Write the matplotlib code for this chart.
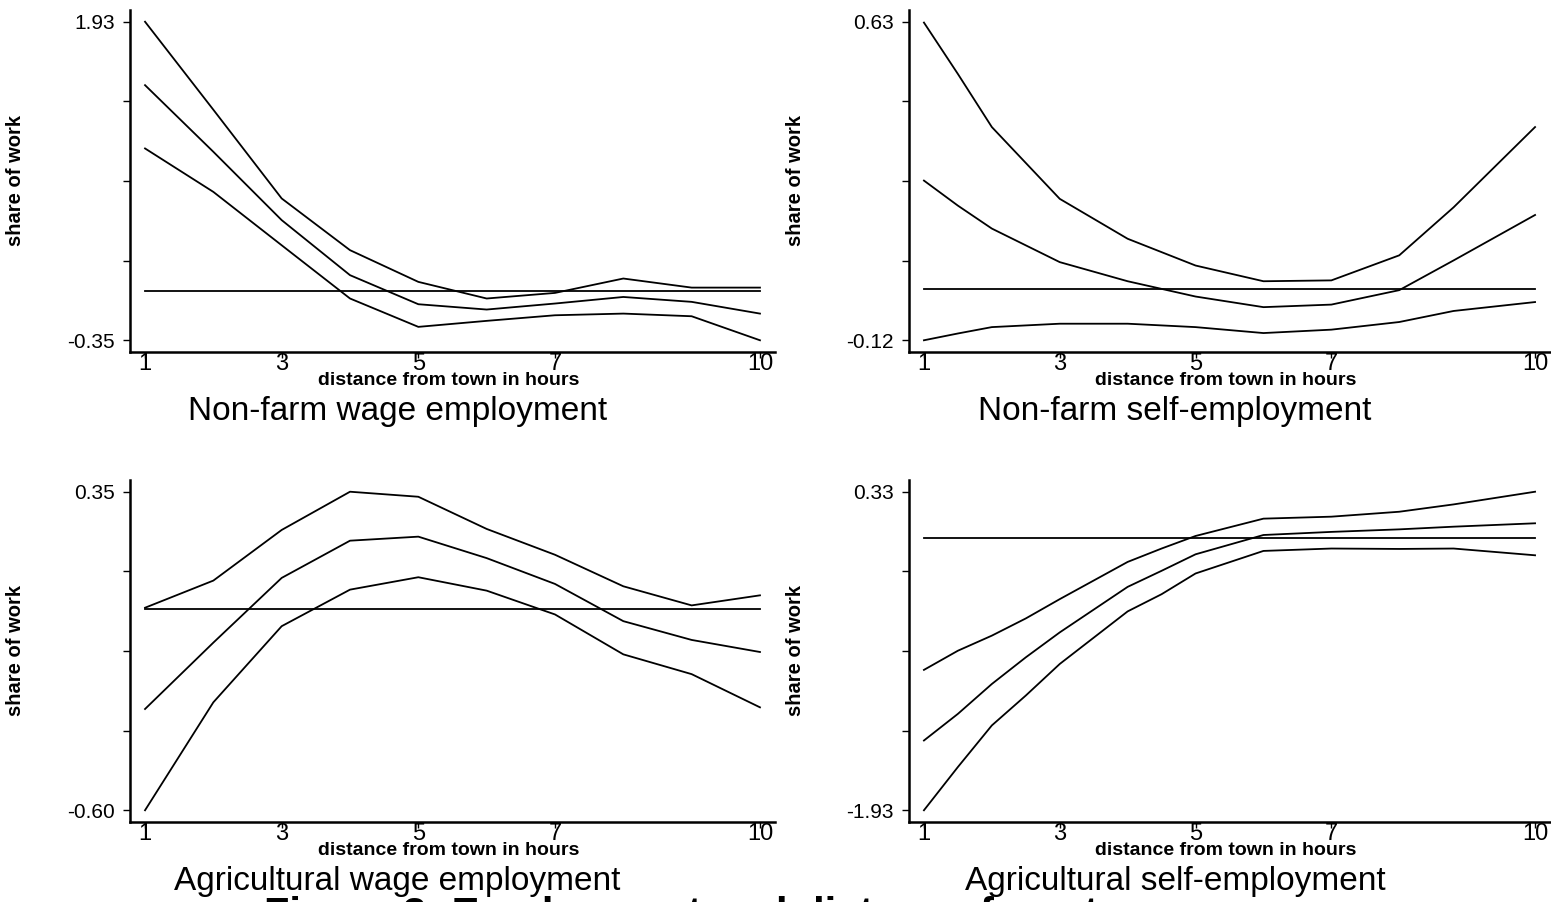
import numpy as np
import matplotlib
matplotlib.use("Agg")
import matplotlib.pyplot as plt

# distance (hours) grid per panel
hours_a = [1, 2, 3, 4, 5, 6, 7, 8, 9, 10]
hours_b = [1, 1.5, 2, 3, 4, 5, 6, 7, 8, 8.8, 10]
hours_d = [1, 1.5, 2, 2.5, 3, 4, 4.5, 5, 6, 7, 8, 8.8, 10]

x_ticks = [1, 3, 5, 7, 10]

# Non-farm wage employment
nfw_upper = [1.93, 1.30, 0.665, 0.295, 0.068, -0.051, -0.011, 0.092, 0.027, 0.027]
nfw_mid = [1.476, 0.999, 0.51, 0.116, -0.092, -0.130, -0.087, -0.040, -0.075, -0.159]
nfw_lower = [1.023, 0.712, 0.33, -0.051, -0.254, -0.211, -0.171, -0.159, -0.178, -0.35]

# Non-farm self-employment
nfs_upper = [0.628, 0.507, 0.382, 0.213, 0.119, 0.056, 0.019, 0.021, 0.080, 0.193, 0.382]
nfs_mid = [0.256, 0.197, 0.143, 0.064, 0.019, -0.017, -0.042, -0.036, -0.002, 0.068, 0.175]
nfs_lower = [-0.12, -0.104, -0.089, -0.081, -0.081, -0.089, -0.103, -0.095, -0.077, -0.051, -0.030]

# Agricultural wage employment
agw_upper = [0.004, 0.085, 0.236, 0.35, 0.335, 0.239, 0.162, 0.068, 0.011, 0.041]
agw_mid = [-0.298, -0.100, 0.093, 0.204, 0.216, 0.152, 0.075, -0.036, -0.092, -0.128]
agw_lower = [-0.60, -0.278, -0.051, 0.058, 0.095, 0.055, -0.016, -0.135, -0.194, -0.293]

# Agricultural self-employment
ags_upper = [-0.934, -0.798, -0.691, -0.569, -0.432, -0.168, -0.073, 0.016, 0.139, 0.153, 0.188, 0.240, 0.33]
ags_mid = [-1.435, -1.246, -1.034, -0.845, -0.668, -0.345, -0.231, -0.114, 0.023, 0.045, 0.063, 0.082, 0.106]
ags_lower = [-1.93, -1.623, -1.328, -1.116, -0.892, -0.519, -0.397, -0.250, -0.090, -0.073, -0.076, -0.073, -0.121]

panels = [
    ("Non-farm wage employment", hours_a, nfw_upper, nfw_mid, nfw_lower, (-0.35, 1.93)),
    ("Non-farm self-employment", hours_b, nfs_upper, nfs_mid, nfs_lower, (-0.12, 0.63)),
    ("Agricultural wage employment", hours_a, agw_upper, agw_mid, agw_lower, (-0.60, 0.35)),
    ("Agricultural self-employment", hours_d, ags_upper, ags_mid, ags_lower, (-1.93, 0.33)),
]

SANS = ["Liberation Sans", "DejaVu Sans"]
NARROW = ["Liberation Sans Narrow", "Liberation Sans", "DejaVu Sans"]
plt.rcParams["font.family"] = SANS

W, H = 1551, 902
fig = plt.figure(figsize=(W / 100, H / 100), dpi=100)

# axes boxes in pixels: (left, top, width)
boxes = [(130, 10, 645), (909, 10, 641), (130, 480, 645), (909, 480, 641)]
AX_H = 342

for (title, hrs, up, mid, lo, (ymin, ymax)), (px, py, aw) in zip(panels, boxes):
    ax = fig.add_axes([px / W, 1 - (py + AX_H) / H, aw / W, AX_H / H])
    for series in (up, mid, lo):
        ax.plot(hrs, series, color="black", lw=1.3)
    ax.plot([hrs[0], hrs[-1]], [0, 0], color="black", lw=1.3)

    pad = (ymax - ymin) * 0.0368
    ax.set_ylim(ymin - pad, ymax + pad)
    ax.set_xlim(0.78, 10.22)

    yt = np.linspace(ymin, ymax, 5)
    ax.set_yticks(yt)
    ax.set_yticklabels([f"{ymin:.2f}", "", "", "", f"{ymax:.2f}"])
    ax.set_xticks(x_ticks)
    ax.set_xticklabels([str(t) for t in x_ticks], family=NARROW)

    ax.tick_params(axis="y", direction="out", length=5, width=1, pad=6, labelsize=15)
    ax.tick_params(axis="x", direction="out", length=4, width=1, pad=-3, labelsize=17)

    for side in ("top", "right"):
        ax.spines[side].set_visible(False)
    for side in ("left", "bottom"):
        ax.spines[side].set_linewidth(1.8)

    ax.set_ylabel("share of work", fontsize=14.5, fontweight="bold")
    ax.yaxis.set_label_coords(-0.163, 0.5)

    ax.text(0.4946, -0.082, "distance from town in hours", transform=ax.transAxes,
            ha="center", va="center", fontsize=14, fontweight="bold", family=NARROW)
    ax.text(0.415, -0.199, title, transform=ax.transAxes,
            ha="center", va="baseline", fontsize=24)

# caption cut off by the page edge
fig.text(0.466, -0.028, "Figure 3: Employment and distance from town",
         ha="center", va="baseline", fontsize=30, fontweight="bold")

fig.savefig("out.png", dpi=100)
